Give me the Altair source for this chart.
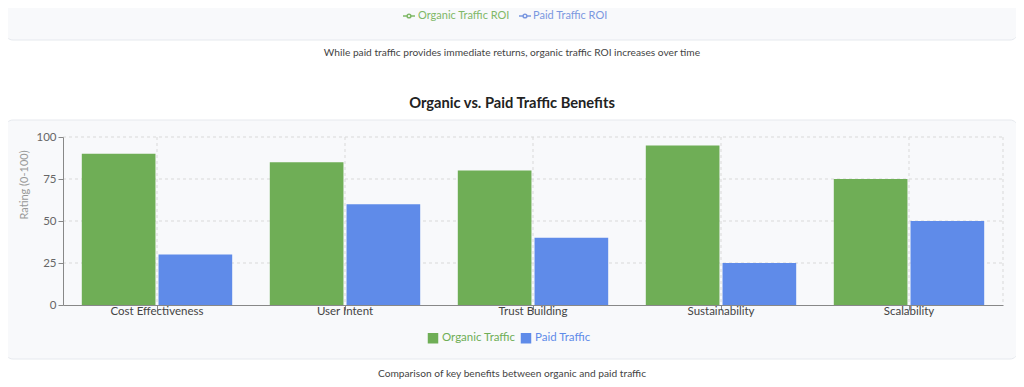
import altair as alt
import pandas as pd

categories = ["Cost Effectiveness", "User Intent", "Trust Building", "Sustainability", "Scalability"]
organic = [90, 85, 80, 95, 75]
paid = [30, 60, 40, 25, 50]
series = ["Organic Traffic", "Paid Traffic"]
y_ticks = [0, 25, 50, 75, 100]

GREEN = "#6fae56"
BLUE = "#5f8be9"
FONT = "Lato, Segoe UI, Open Sans, sans-serif"

rows = []
for c, o, p in zip(categories, organic, paid):
    rows.append({"category": c, "series": series[0], "value": o})
    rows.append({"category": c, "series": series[1], "value": p})
df = pd.DataFrame(rows)

W, H = 940, 168
one = alt.Data(values=[{"a": 1}])

xscale = alt.Scale(domain=categories, paddingInner=0.2, paddingOuter=0.1)
yscale = alt.Scale(domain=[0, 100], nice=False)


def card(y0, y1):
    return alt.Chart(one).mark_rect(
        fill="#f8f9fb", stroke="#e6e9ee", strokeWidth=1, cornerRadius=8
    ).encode(x=alt.value(-58), x2=alt.value(955), y=alt.value(y0), y2=alt.value(y1))


def txt(s, x, y, size, color, weight="normal", align="center", angle=0):
    return alt.Chart(one).mark_text(
        text=s, fontSize=size, color=color, fontWeight=weight, font=FONT,
        align=align, baseline="middle", angle=angle
    ).encode(x=alt.value(x), y=alt.value(y))


card1 = card(-160, -97)
card2 = card(-17, 222)

hgrid = alt.Chart(pd.DataFrame({"t": y_ticks[1:]})).mark_rule(
    color="#d9d9d9", strokeDash=[3, 3], strokeWidth=1
).encode(y=alt.Y("t:Q", scale=yscale), x=alt.value(0), x2=alt.value(W))

vgrid = alt.Chart(pd.DataFrame({"category": categories})).mark_rule(
    color="#d9d9d9", strokeDash=[3, 3], strokeWidth=1
).encode(x=alt.X("category:N", scale=xscale, sort=categories), y=alt.value(0), y2=alt.value(H))

rborder = alt.Chart(one).mark_rule(color="#d9d9d9", strokeDash=[3, 3]).encode(
    x=alt.value(W), y=alt.value(0), y2=alt.value(H)
)

bars = alt.Chart(df).mark_bar().encode(
    x=alt.X("category:N", scale=xscale, sort=categories,
            axis=alt.Axis(title=None, labelAngle=0, labelAlign="center", labelColor="#444",
                          labelFontSize=11.5, labelFont=FONT, tickSize=5, tickColor="#888",
                          domainColor="#888", labelPadding=1, bandPosition=0.5, grid=False,
                          zindex=1)),
    xOffset=alt.XOffset("series:N", sort=series, scale=alt.Scale(paddingInner=0.04)),
    y=alt.Y("value:Q", scale=yscale,
            axis=alt.Axis(title=None, values=y_ticks, labelColor="#666", labelFontSize=11.5,
                          labelFont=FONT, tickSize=5, tickColor="#888", domainColor="#888",
                          labelPadding=2, grid=False, zindex=1)),
    color=alt.Color("series:N", sort=series,
                    scale=alt.Scale(domain=series, range=[GREEN, BLUE]),
                    legend=alt.Legend(title=None, orient="none", legendX=364, legendY=195,
                                      direction="horizontal", symbolType="square",
                                      symbolSize=110, labelFontSize=11.5, labelFont=FONT,
                                      columnPadding=4, labelOffset=3, padding=0,
                                      labelColor={"expr": f"datum.label === 'Organic Traffic' ? '{GREEN}' : '{BLUE}'"})),
)


def line_sym(x, color):
    r = alt.Chart(one).mark_rule(color=color, strokeWidth=1.5).encode(
        x=alt.value(x - 6), x2=alt.value(x + 6), y=alt.value(-121))
    p = alt.Chart(one).mark_point(shape="circle", size=14, filled=True, fill="white",
                                  stroke=color, strokeWidth=1.5, opacity=1).encode(
        x=alt.value(x), y=alt.value(-121))
    return r + p


top_leg = (line_sym(346, "#7fb867") + txt("Organic Traffic ROI", 355, -121, 11, "#7fb867", align="left")
           + line_sym(462, "#7b98e0") + txt("Paid Traffic ROI", 470, -121, 11, "#7b98e0", align="left"))

cap1 = txt("While paid traffic provides immediate returns, organic traffic ROI increases over time",
           449, -84, 10.2, "#444")
title = txt("Organic vs. Paid Traffic Benefits", 449, -33, 14.7, "#222", weight="bold")
ytitle = txt("Rating (0-100)", -38, 48, 11, "#999", angle=270)
cap2 = txt("Comparison of key benefits between organic and paid traffic", 449, 237, 10.2, "#444")

chart = alt.layer(
    card1, card2, hgrid, vgrid, rborder, bars, top_leg, cap1, title, ytitle, cap2
).properties(
    width=W, height=H,
    autosize=alt.AutoSizeParams(type="none"),
    padding={"left": 55, "top": 129, "right": 13, "bottom": 74},
    background="white",
).configure_view(stroke=None)

chart.save("out.html", embed_options={"renderer": "svg", "actions": False})
